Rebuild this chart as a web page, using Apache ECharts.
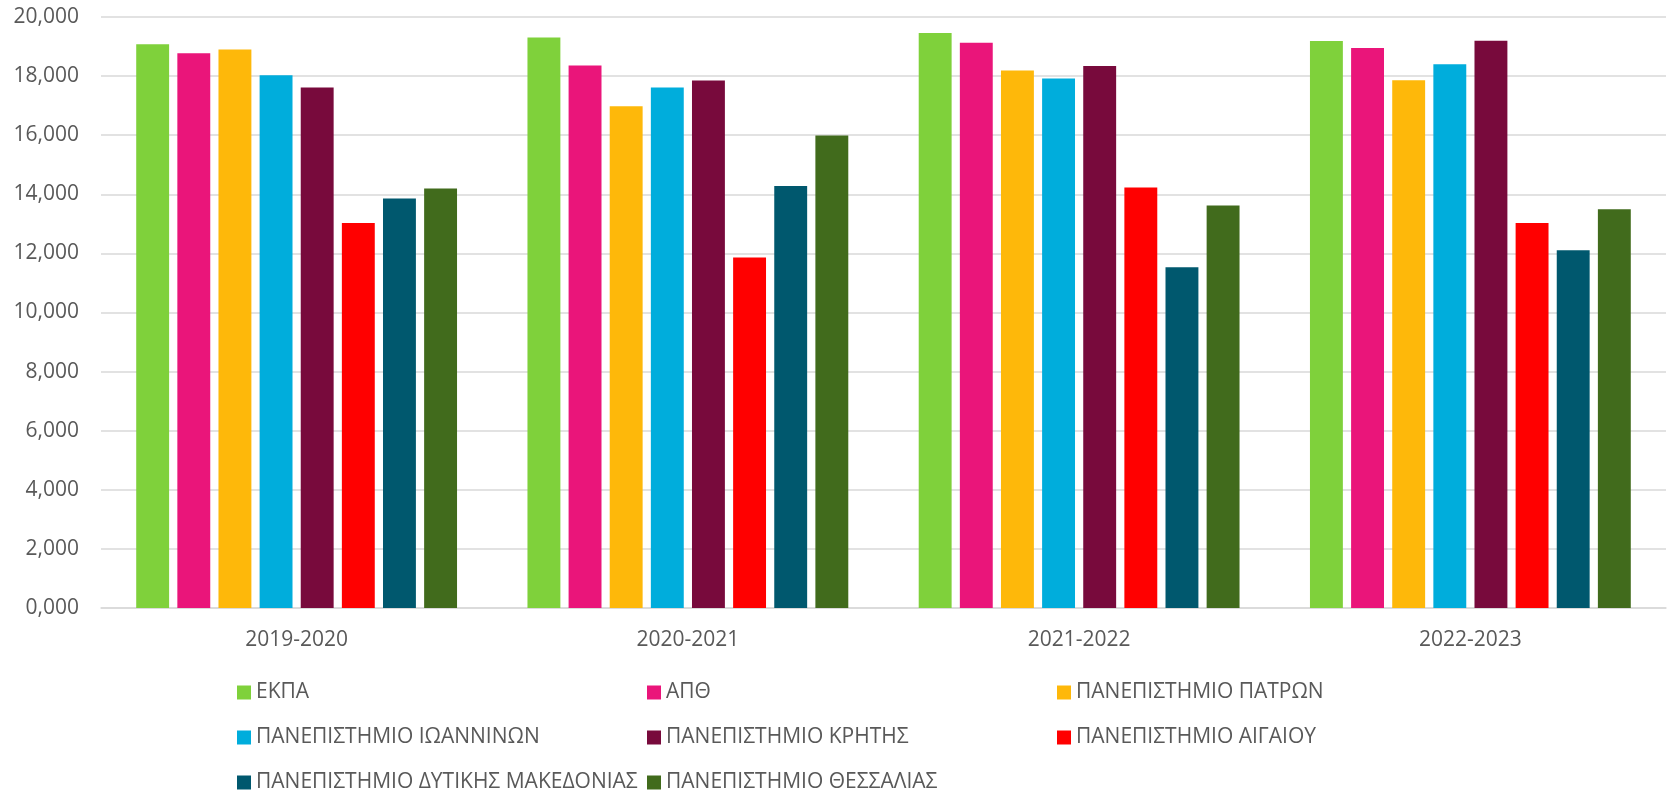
<!DOCTYPE html>
<html>
<head>
<meta charset="utf-8">
<script src="https://cdn.jsdelivr.net/npm/echarts@6/dist/echarts.min.js"></script>
<style>
html,body{margin:0;padding:0;background:#fff;}
#chart{width:1674px;height:796px;}
</style>
</head>
<body>
<div id="chart"></div>
<script>
const categories = ['2019-2020', '2020-2021', '2021-2022', '2022-2023'];
const seriesNames = [
  'ΕΚΠΑ', 'ΑΠΘ', 'ΠΑΝΕΠΙΣΤΗΜΙΟ ΠΑΤΡΩΝ',
  'ΠΑΝΕΠΙΣΤΗΜΙΟ ΙΩΑΝΝΙΝΩΝ', 'ΠΑΝΕΠΙΣΤΗΜΙΟ ΚΡΗΤΗΣ', 'ΠΑΝΕΠΙΣΤΗΜΙΟ ΑΙΓΑΙΟΥ',
  'ΠΑΝΕΠΙΣΤΗΜΙΟ ΔΥΤΙΚΗΣ ΜΑΚΕΔΟΝΙΑΣ', 'ΠΑΝΕΠΙΣΤΗΜΙΟ ΘΕΣΣΑΛΙΑΣ'
];
const ekpa      = [19080, 19310, 19460, 19190];
const apth      = [18770, 18360, 19130, 18950];
const patron    = [18900, 16980, 18190, 17860];
const ioanninon = [18030, 17610, 17920, 18400];
const kritis    = [17610, 17850, 18340, 19200];
const aigaiou   = [13030, 11860, 14230, 13030];
const dytMak    = [13860, 14280, 11530, 12110];
const thessalias= [14200, 15990, 13620, 13490];
const tickLabels = ['0,000','2,000','4,000','6,000','8,000','10,000','12,000','14,000','16,000','18,000','20,000'];

const seriesValues = [ekpa, apth, patron, ioanninon, kritis, aigaiou, dytMak, thessalias];
const colors = ['#7fd13b', '#ea157a', '#feb80a', '#00addc', '#780a3c', '#ff0000', '#00586e', '#416b1c'];
const FONT = '"Open Sans", "Noto Sans", sans-serif';

const chart = echarts.init(document.getElementById('chart'), null, {renderer: 'canvas'});
chart.setOption({
  animation: false,
  color: colors,
  grid: {left: 101, right: 8, top: 17, bottom: 188, containLabel: false},
  legend: {
    left: 237, top: 670, width: 1300,
    padding: 0,
    orient: 'horizontal',
    itemWidth: 14, itemHeight: 14, itemGap: 0,
    icon: 'rect',
    data: seriesNames,
    textStyle: {fontFamily: FONT, fontSize: 21, color: '#595959', width: 391, lineHeight: 45, padding: [0,0,0,0]}
  },
  xAxis: {
    type: 'category',
    data: categories,
    axisLine: {lineStyle: {color: '#d9d9d9', width: 1.5}},
    axisTick: {show: false},
    axisLabel: {fontFamily: FONT, fontSize: 21, color: '#595959', margin: 22}
  },
  yAxis: {
    type: 'value', min: 0, max: 20000, interval: 2000,
    axisLine: {show: false},
    axisTick: {show: false},
    splitLine: {lineStyle: {color: '#d9d9d9', width: 1.5}},
    axisLabel: {
      fontFamily: FONT, fontSize: 21, color: '#595959', margin: 22,
      formatter: v => tickLabels[Math.round(v / 2000)]
    }
  },
  series: seriesNames.map((name, i) => ({
    name: name,
    type: 'bar',
    data: seriesValues[i],
    barGap: '25%',
    barCategoryGap: '18%',
    itemStyle: {color: colors[i]}
  }))
});
</script>
</body>
</html>
